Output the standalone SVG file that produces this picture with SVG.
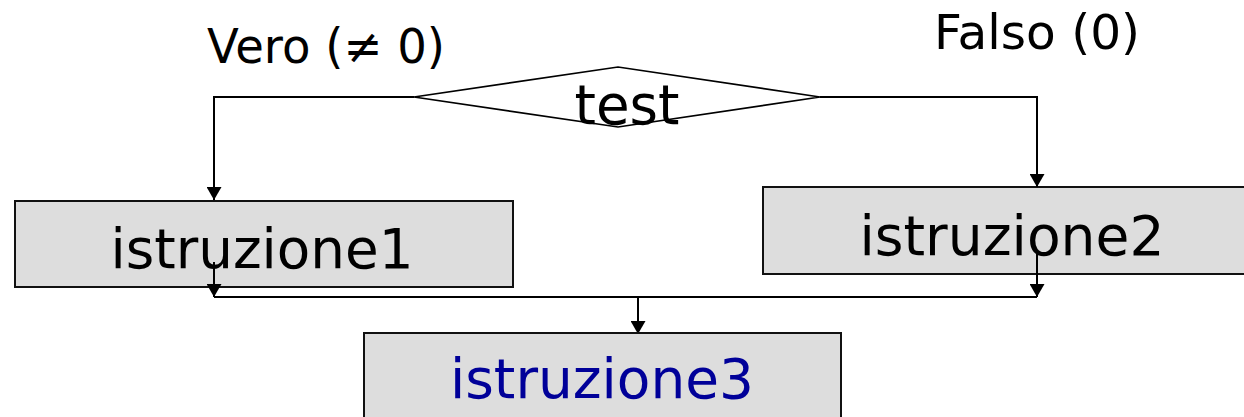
<svg xmlns="http://www.w3.org/2000/svg" width="1244" height="417" viewBox="0 0 1244 417">
  <style>
    .box { fill: #dddddd; stroke: #111111; stroke-width: 2; }
    .dia { fill: #ffffff; stroke: #000000; stroke-width: 1.6; }
    .lbl { font-family: "DejaVu Sans", Verdana, sans-serif; fill: #000000; }
    .big { font-size: 56px; text-anchor: middle; }
    .cond { font-size: 48px; }
    .wire { fill: none; stroke: #000000; stroke-width: 2; }
  </style>
  <defs>
    <marker id="arrow" viewBox="0 0 13 15" refX="13" refY="7.5" markerWidth="13" markerHeight="15" markerUnits="userSpaceOnUse" orient="auto">
      <path d="M0,0 L13,7.5 L0,15 Z" fill="#000000"/>
    </marker>
  </defs>

  <rect width="1244" height="417" fill="#ffffff"/>

  <!-- branch labels -->
  <text class="lbl cond" x="207" y="63" textLength="238" lengthAdjust="spacingAndGlyphs">Vero (≠ 0)</text>
  <text class="lbl cond" x="934" y="49" textLength="206" lengthAdjust="spacingAndGlyphs">Falso (0)</text>

  <g id="test">
    <polygon class="dia" points="414,97 618,67 820,97 618,127"/>
    <text class="lbl big" x="627" y="124" textLength="105" lengthAdjust="spacingAndGlyphs">test</text>
  </g>

  <g id="istruzione1">
    <rect class="box" x="15" y="201" width="498" height="86"/>
    <text class="lbl big" x="262" y="268" textLength="303" lengthAdjust="spacingAndGlyphs">istruzione1</text>
  </g>

  <g id="istruzione2">
    <rect class="box" x="763" y="187" width="500" height="87"/>
    <text class="lbl big" x="1012" y="255" textLength="305" lengthAdjust="spacingAndGlyphs">istruzione2</text>
  </g>

  <g id="connectors">
    <path class="wire" d="M414,97 H214 V200" marker-end="url(#arrow)"/>
    <path class="wire" d="M820,97 H1037 V187" marker-end="url(#arrow)"/>
    <path class="wire" d="M214,262 V297" marker-end="url(#arrow)"/>
    <path class="wire" d="M1037,250 V297" marker-end="url(#arrow)"/>
    <path class="wire" d="M214,297 H1037"/>
    <path class="wire" d="M638,297 V334" marker-end="url(#arrow)"/>
  </g>

  <g id="istruzione3">
    <rect class="box" x="364" y="333" width="477" height="100"/>
    <text class="lbl big" x="602" y="398" textLength="304" lengthAdjust="spacingAndGlyphs" style="fill:#000099">istruzione3</text>
  </g>
</svg>
